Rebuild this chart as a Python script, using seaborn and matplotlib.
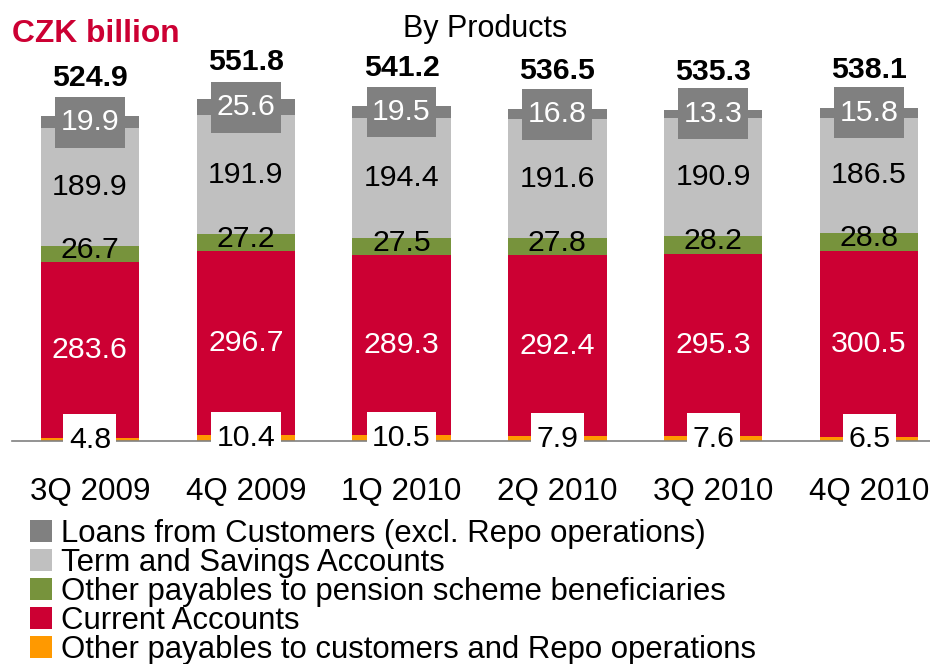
import matplotlib
matplotlib.use("Agg")
import matplotlib.pyplot as plt
import seaborn as sns
import pandas as pd
import numpy as np
from matplotlib.patches import Patch

quarters = ["3Q 2009", "4Q 2009", "1Q 2010", "2Q 2010", "3Q 2010", "4Q 2010"]
other_payables = [4.8, 10.4, 10.5, 7.9, 7.6, 6.5]
current_accounts = [283.6, 296.7, 289.3, 292.4, 295.3, 300.5]
pension_payables = [26.7, 27.2, 27.5, 27.8, 28.2, 28.8]
term_savings = [189.9, 191.9, 194.4, 191.6, 190.9, 186.5]
loans_customers = [19.9, 25.6, 19.5, 16.8, 13.3, 15.8]
totals = [524.9, 551.8, 541.2, 536.5, 535.3, 538.1]

series_names = [
    "Other payables to customers and Repo operations",
    "Current Accounts",
    "Other payables to pension scheme beneficiaries",
    "Term and Savings Accounts",
    "Loans from Customers (excl. Repo operations)",
]
series_vals = [other_payables, current_accounts, pension_payables, term_savings, loans_customers]
colors = ["#FF9900", "#CC0033", "#77933C", "#C0C0C0", "#808080"]

sns.set_style("white")
plt.rcParams["font.family"] = ["Liberation Sans", "DejaVu Sans"]
plt.rcParams["text.color"] = "black"
plt.rcParams["axes.labelcolor"] = "black"

fig = plt.figure(figsize=(9.3, 6.64), dpi=100)
# axes extend slightly past the right edge (reference crops the last slot)
ax = fig.add_axes([12 / 930, (664 - 441) / 664, 935 / 930, 381 / 664])

vals = np.array(series_vals)
cum = np.cumsum(vals, axis=0)
bottoms = cum - vals

# draw cumulative stacks, tallest first
for k in range(len(series_names) - 1, -1, -1):
    df = pd.DataFrame({"quarter": quarters, "value": cum[k]})
    sns.barplot(data=df, x="quarter", y="value", order=quarters, color=colors[k],
                saturation=1, width=0.63, linewidth=0, errorbar=None, ax=ax)

ax.set_xlim(-0.5, 5.5)
ax.set_ylim(0, 615.5)
ax.set_xlabel("")
ax.set_ylabel("")
ax.set_yticks([])
for s in ["left", "right", "top"]:
    ax.spines[s].set_visible(False)
ax.spines["bottom"].set_color("#808080")
ax.spines["bottom"].set_linewidth(1.2)
ax.set_xticks(range(len(quarters)))
ax.set_xticklabels(quarters, fontsize=22.6)
ax.set_xticks(np.arange(-0.5, len(quarters), 1.0), minor=True)
ax.tick_params(axis="x", which="major", length=0, pad=26, labelcolor="black")
ax.tick_params(axis="x", which="minor", length=9, width=1.2, color="#808080", direction="out")

fs = 21.8
for i in range(len(quarters)):
    # other payables (white box)
    ax.text(i, bottoms[0][i] + vals[0][i] / 2, f"{other_payables[i]:.1f}", ha="center", va="center",
            fontsize=fs, color="black", zorder=5,
            bbox=dict(boxstyle="square,pad=0.18", mutation_aspect=2.1, facecolor="white", edgecolor="none"))
    # current accounts
    ax.text(i, bottoms[1][i] + vals[1][i] / 2, f"{current_accounts[i]:.1f}", ha="center", va="center",
            fontsize=fs, color="white", zorder=5)
    # pension
    ax.text(i, bottoms[2][i] + vals[2][i] / 2 + 6, f"{pension_payables[i]:.1f}", ha="center", va="center",
            fontsize=fs, color="black", zorder=5)
    # term & savings
    ax.text(i, bottoms[3][i] + vals[3][i] / 2, f"{term_savings[i]:.1f}", ha="center", va="center",
            fontsize=fs, color="black", zorder=5)
    # loans (grey box)
    ax.text(i, bottoms[4][i] + vals[4][i] / 2, f"{loans_customers[i]:.1f}", ha="center", va="center",
            fontsize=fs, color="white", zorder=5,
            bbox=dict(boxstyle="square,pad=0.18", mutation_aspect=2.1, facecolor="#808080", edgecolor="none"))
    # totals
    ax.text(i, cum[4][i] + 48, f"{totals[i]:.1f}", ha="center", va="baseline",
            fontsize=21.8, fontweight="bold", color="black", zorder=5)

fig.text(12 / 930, (664 - 42) / 664, "CZK billion", fontsize=22.9, fontweight="bold",
         color="#CC0033", ha="left", va="baseline")
fig.text(485 / 930, (664 - 37) / 664, "By Products", fontsize=22, color="black",
         ha="center", va="baseline")

order = [4, 3, 2, 1, 0]
handles = [Patch(facecolor=colors[k], edgecolor="none") for k in order]
labels = [series_names[k] for k in order]
fig.legend(handles, labels, loc="upper left", bbox_to_anchor=(30 / 930, (664 - 519) / 664),
           frameon=False, fontsize=22.4, handlelength=0.71, handleheight=0.71,
           handletextpad=0.3, labelspacing=-0.03, borderpad=0, borderaxespad=0,
           labelcolor="black")

fig.savefig("out.png", dpi=100)
